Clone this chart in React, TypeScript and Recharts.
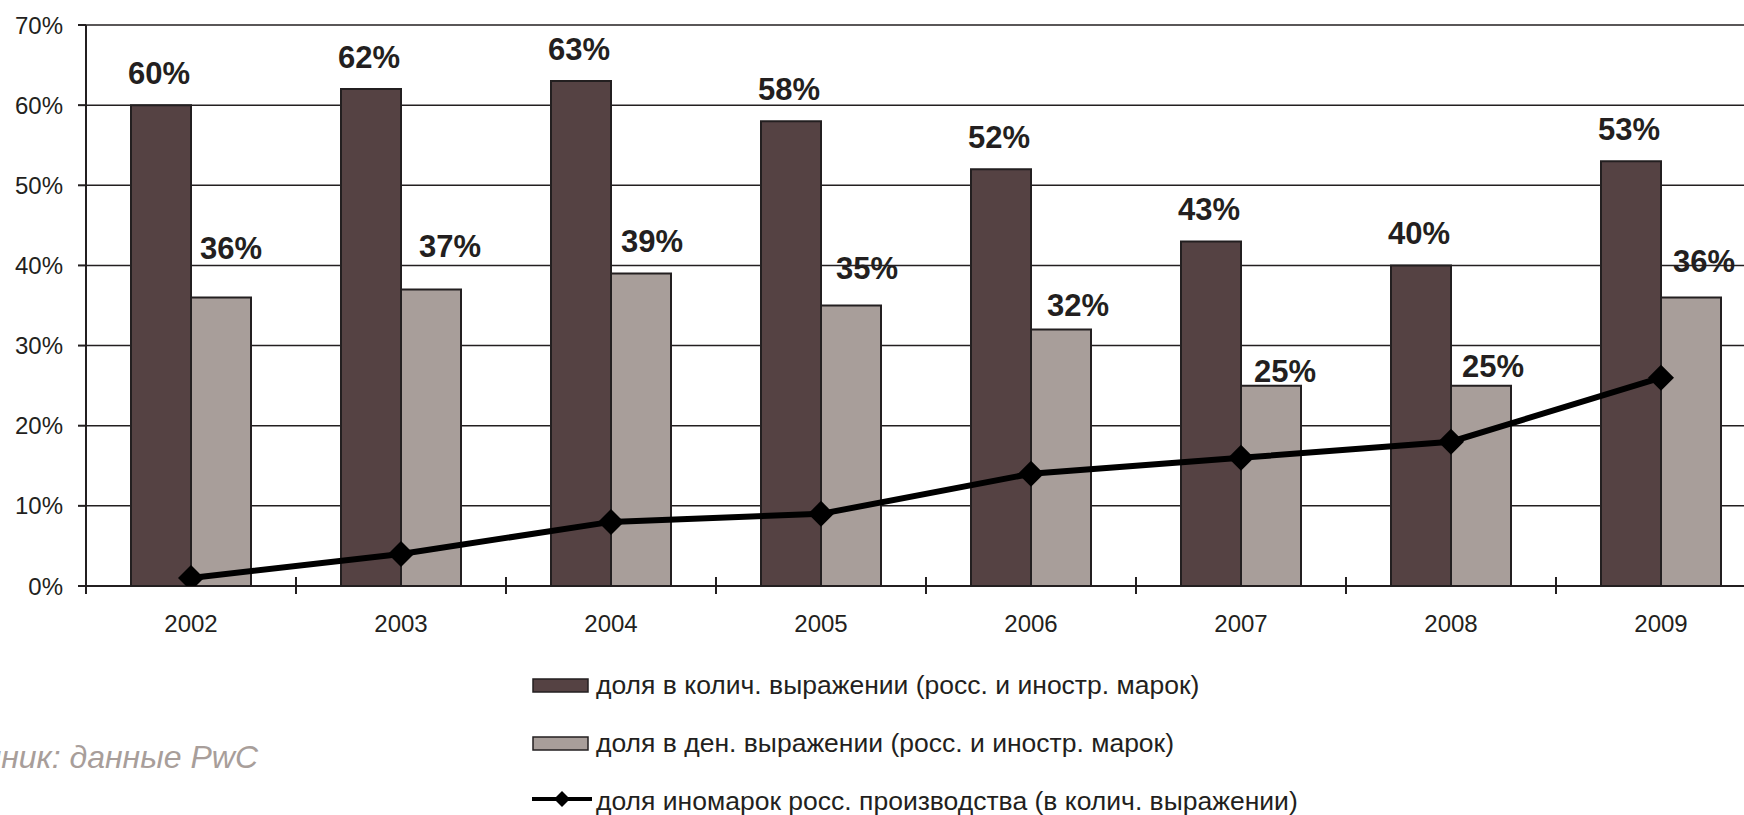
import React from 'react';
import { ComposedChart, Bar, Line, XAxis, YAxis, CartesianGrid, LabelList } from 'recharts';

// values
const years = ['2002', '2003', '2004', '2005', '2006', '2007', '2008', '2009'];
const qtyShare = [60, 62, 63, 58, 52, 43, 40, 53];
const moneyShare = [36, 37, 39, 35, 32, 25, 25, 36];
const localForeign = [1, 4, 8, 9, 14, 16, 18, 26];
const yTicks = [0, 10, 20, 30, 40, 50, 60, 70];

const seriesNames = [
  'доля в колич. выражении (росс. и иностр. марок)',
  'доля в ден. выражении (росс. и иностр. марок)',
  'доля иномарок росс. производства (в колич. выражении)',
];
const sourceNote = 'Источник: данные PwC';

const data = years.map((year, i) => ({
  year,
  qty: qtyShare[i],
  money: moneyShare[i],
  local: localForeign[i],
}));

const INK = '#231f20';
const DARK = '#554243';
const LIGHT = '#a89e9a';
const FONT = '"Liberation Sans", Arial, sans-serif';

const CHART_W = 1800;
const CHART_H = 815;
const PLOT_W = 1680;
const BAND_HALF = PLOT_W / years.length / 2;

// hand-placed label nudges for the light bars (as in the original)
const moneyLabelLift = [38, 32, 21, 27, 14, 4, 9, 25];
const moneyLabelShift = [10, 19, 11, 16, 17, 14, 12, 13];

const YearTick = (props: any) => {
  const { x, y, payload, index } = props;
  return (
    <g>
      <line x1={x + BAND_HALF} x2={x + BAND_HALF} y1={y - 9} y2={y + 8} stroke={INK} strokeWidth={2} />
      {index === 0 && (
        <line x1={x - BAND_HALF} x2={x - BAND_HALF} y1={y} y2={y + 8} stroke={INK} strokeWidth={2} />
      )}
      <text x={x} y={y + 46} textAnchor="middle" fontSize={24} fill={INK} fontFamily={FONT}>
        {payload.value}
      </text>
    </g>
  );
};

const Diamond = (props: any) => {
  const { cx, cy } = props;
  if (cx == null || cy == null) return null;
  const r = 13;
  return <path d={`M${cx},${cy - r}L${cx + r},${cy}L${cx},${cy + r}L${cx - r},${cy}Z`} fill="#000" />;
};

const qtyLabel = (props: any) => {
  const { x, y, width, value } = props;
  return (
    <text x={x + width / 2 - 2} y={y - 21} textAnchor="middle" fontSize={31} fontWeight="bold" fill={INK} fontFamily={FONT}>
      {value}%
    </text>
  );
};

const moneyLabel = (props: any) => {
  const { x, y, width, value, index } = props;
  return (
    <text
      x={x + width / 2 + moneyLabelShift[index]}
      y={y - moneyLabelLift[index]}
      textAnchor="middle"
      fontSize={31}
      fontWeight="bold"
      fill={INK}
      fontFamily={FONT}
    >
      {value}%
    </text>
  );
};

const LegendBlock = () => (
  <svg width={1744} height={815} style={{ position: 'absolute', left: 0, top: 0, pointerEvents: 'none' }}>
    <g fontFamily={FONT} fontSize={26.5} fill={INK}>
      <rect x={533} y={679} width={55} height={13} fill={DARK} stroke={INK} strokeWidth={1.5} />
      <text x={596} y={694}>{seriesNames[0]}</text>
      <rect x={533} y={737} width={55} height={13} fill={LIGHT} stroke={INK} strokeWidth={1.5} />
      <text x={596} y={752}>{seriesNames[1]}</text>
      <line x1={532} x2={592} y1={799} y2={799} stroke="#000" strokeWidth={4} />
      <path d="M562,791L570,799L562,807L554,799Z" fill="#000" />
      <text x={596} y={810}>{seriesNames[2]}</text>
    </g>
    <text x={258} y={768} textAnchor="end" fontFamily={FONT} fontSize={32} fontStyle="italic" fill={LIGHT}>
      {sourceNote}
    </text>
  </svg>
);

export default function App() {
  return (
    <div
      style={{
        position: 'absolute',
        left: 0,
        top: 0,
        width: 1744,
        height: 815,
        overflow: 'hidden',
        background: '#fff',
      }}
    >
      <ComposedChart
        width={CHART_W}
        height={CHART_H}
        data={data}
        margin={{ top: 25, right: CHART_W - 86 - PLOT_W, bottom: 169, left: 0 }}
        barGap={0}
        style={{ fontFamily: FONT }}
      >
        <CartesianGrid vertical={false} stroke={INK} strokeWidth={1.5} strokeOpacity={1} />
        <XAxis
          dataKey="year"
          height={60}
          axisLine={{ stroke: INK, strokeWidth: 2 }}
          tickLine={false}
          tickSize={0}
          tickMargin={0}
          tick={<YearTick />}
          interval={0}
        />
        <YAxis
          width={86}
          domain={[0, 70]}
          ticks={yTicks}
          tickFormatter={(v: number) => `${v}%`}
          axisLine={{ stroke: INK, strokeWidth: 2 }}
          tickLine={{ stroke: INK, strokeWidth: 2 }}
          tickSize={8}
          tickMargin={15}
          tick={{ fontSize: 24, fill: INK, fontFamily: FONT }}
          allowDataOverflow
        />
        <Bar dataKey="qty" name={seriesNames[0]} fill={DARK} stroke={INK} strokeWidth={2} barSize={60} isAnimationActive={false}>
          <LabelList dataKey="qty" content={qtyLabel} />
        </Bar>
        <Bar dataKey="money" name={seriesNames[1]} fill={LIGHT} stroke={INK} strokeWidth={2} barSize={60} isAnimationActive={false}>
          <LabelList dataKey="money" content={moneyLabel} />
        </Bar>
        <Line
          dataKey="local"
          name={seriesNames[2]}
          type="linear"
          stroke="#000"
          strokeWidth={6}
          dot={<Diamond />}
          activeDot={false}
          isAnimationActive={false}
        />
      </ComposedChart>
      <LegendBlock />
    </div>
  );
}
